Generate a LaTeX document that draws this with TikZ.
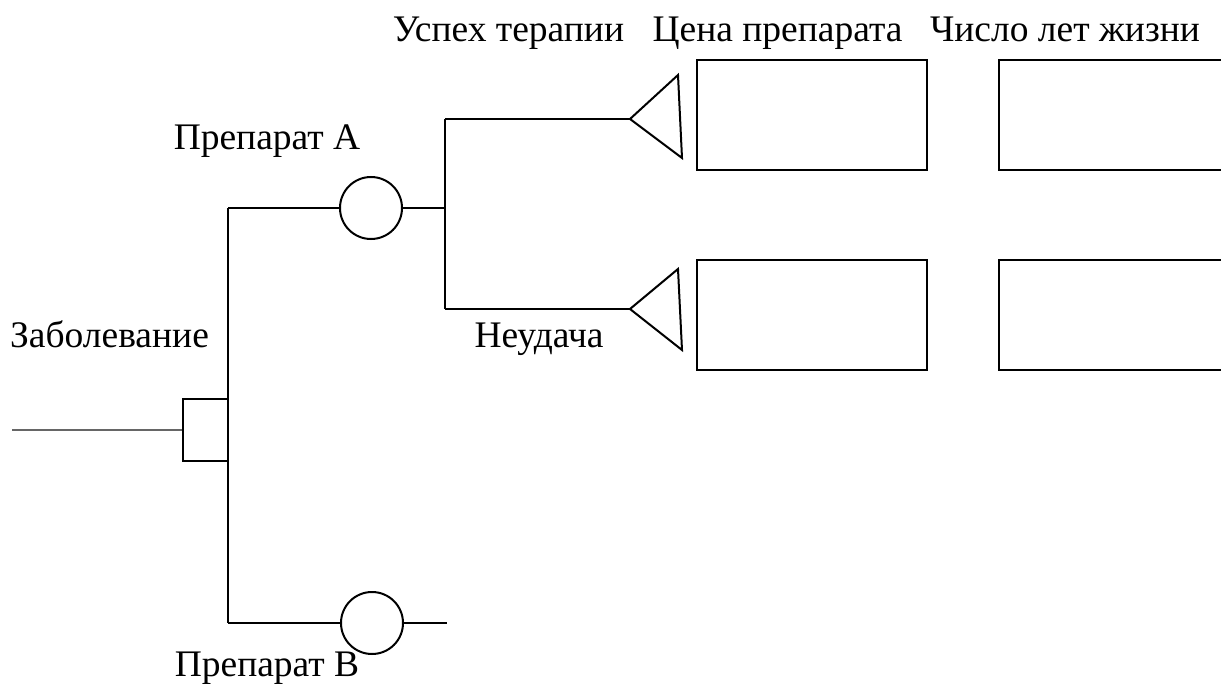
\documentclass[tikz,border=0pt]{standalone}
\usepackage{fontspec}
\setmainfont{Liberation Serif}
\begin{document}
\begin{tikzpicture}[x=1pt,y=-1pt,line width=2pt,
  lbl/.style={font=\fontsize{37.5}{42}\selectfont, inner sep=0pt, anchor=base},
  chance/.style={circle, draw, minimum size=62pt, inner sep=0pt},
  decision/.style={rectangle, draw, minimum width=45pt, minimum height=62pt, inner sep=0pt},
  box/.style={rectangle, draw, minimum width=230pt, minimum height=110pt, inner sep=0pt},
  wire/.style={draw, line width=2pt},
  tri/.style={draw, line width=2pt, line join=miter}]
\useasboundingbox (0,0) rectangle (1221,693);
% nodes
\node[decision] (sq) at (205.5,430) {};
\node[chance] (cA) at (371,208) {};
\node[chance] (cB) at (372,623) {};
\node[box] (r1) at (812,115) {};
\node[box] (r2) at (812,315) {};
\node[box, minimum width=260pt] (r3) at (1129,115) {};
\node[box, minimum width=260pt] (r4) at (1129,315) {};
% coordinates
\coordinate (start) at (12,430);
\coordinate (vtop) at (228,208);
\coordinate (vbot) at (228,623);
\coordinate (jA) at (445,208);
\coordinate (jAt) at (445,119);
\coordinate (jAb) at (445,309);
\coordinate (endB) at (447,623);
\coordinate (t1) at (630,119);
\coordinate (t1a) at (678,75);
\coordinate (t1b) at (682,158);
\coordinate (t2) at (630,309);
\coordinate (t2a) at (678,269);
\coordinate (t2b) at (682,350);
% connectors
\draw[wire, draw=black!60, line width=2.5pt] (start) -- (sq.west);
\draw[wire] (vtop) -- (vbot);
\draw[wire] (vtop) -- (cA.west);
\draw[wire] (vbot) -- (cB.west);
\draw[wire] (cA.east) -- (jA);
\draw[wire] (jAt) -- (jAb);
\draw[wire] (jAt) -- (t1);
\draw[wire] (jAb) -- (t2);
\draw[wire] (cB.east) -- (endB);
\draw[tri] (t1) -- (t1a) -- (t1b) -- cycle;
\draw[tri] (t2) -- (t2a) -- (t2b) -- cycle;
% labels
\node[lbl] (l1) at (508.5,42) {Успех терапии};
\node[lbl] (l2) at (777.5,42) {Цена препарата};
\node[lbl] (l3) at (1065,42) {Число лет жизни};
\node[lbl] (l4) at (267,149) {Препарат А};
\node[lbl] (l5) at (109.5,347) {Заболевание};
\node[lbl] (l6) at (539,347) {Неудача};
\node[lbl] (l7) at (267,676) {Препарат В};
\end{tikzpicture}
\end{document}
